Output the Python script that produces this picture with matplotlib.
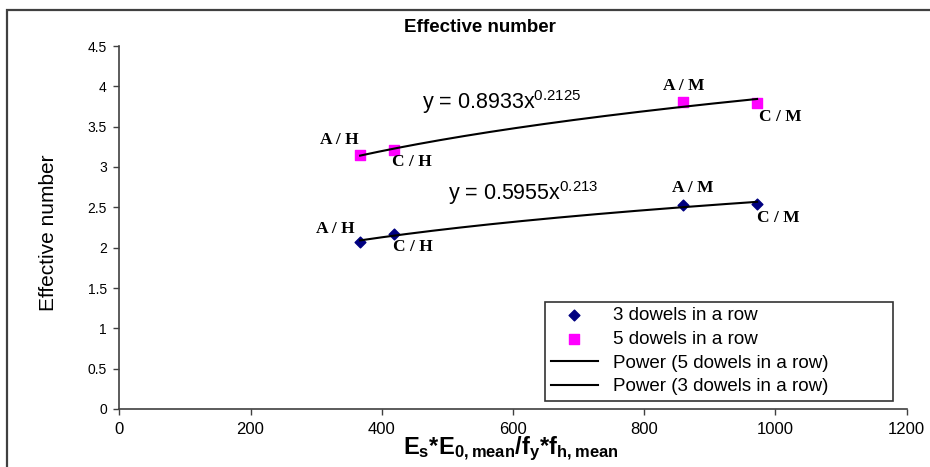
import numpy as np
import matplotlib
matplotlib.use("Agg")
import matplotlib.pyplot as plt
from matplotlib.patches import Rectangle

# ---- data ----
x_vals = [367, 419, 859, 972]
labels = ["A / H", "C / H", "A / M", "C / M"]
y_3dowels = [2.07, 2.17, 2.53, 2.54]
y_5dowels = [3.15, 3.21, 3.81, 3.79]
eq_3 = "y = 0.5955x$^{0.213}$"
eq_5 = "y = 0.8933x$^{0.2125}$"
x_ticks = [0, 200, 400, 600, 800, 1000, 1200]
y_ticks = [0, 0.5, 1, 1.5, 2, 2.5, 3, 3.5, 4, 4.5]
y_tick_labels = ["0", "0.5", "1", "1.5", "2", "2.5", "3", "3.5", "4", "4.5"]

plt.rcParams['font.family'] = ['Liberation Sans', 'DejaVu Sans']
plt.rcParams['mathtext.fontset'] = 'custom'
plt.rcParams['mathtext.rm'] = 'Liberation Sans'
plt.rcParams['mathtext.bf'] = 'Liberation Sans:bold'
serif = ['Liberation Serif', 'DejaVu Serif']

fig = plt.figure(figsize=(9.3, 4.67), dpi=100)
ax = fig.add_axes([119.3 / 930, 1 - 409 / 467, (906.7 - 119.3) / 930, (409 - 46) / 467])

# outer border
fig.patches.append(Rectangle((7 / 930, -0.1), 1.2, 1 - 10 / 467 + 0.1, transform=fig.transFigure,
                             fill=False, edgecolor='#404040', linewidth=1.6))

xs = np.array(x_vals, dtype=float)

def power_fit(x, y):
    b, ln_a = np.polyfit(np.log(x), np.log(np.array(y)), 1)
    return np.exp(ln_a), b

xx = np.linspace(xs.min(), xs.max(), 200)
a5, b5 = power_fit(xs, y_5dowels)
a3, b3 = power_fit(xs, y_3dowels)

ax.scatter(xs, y_3dowels, marker='D', s=30, color='#000080', zorder=2, label='3 dowels in a row')
ax.scatter(xs, y_5dowels, marker='s', s=42, color='#FF00FF', zorder=2, label='5 dowels in a row')
ax.plot(xx, a5 * xx ** b5, color='black', lw=1.5, zorder=3, label='Power (5 dowels in a row)')
ax.plot(xx, a3 * xx ** b3, color='black', lw=1.5, zorder=3, label='Power (3 dowels in a row)')

# point labels (offsets in pixels)
off5 = [(-21, 15), (18, -12), (1, 16), (23, -14)]
off3 = [(-25, 13), (19, -13), (10, 17), (21, -14)]
for xv, yv, lab, o in zip(xs, y_5dowels, labels, off5):
    ax.annotate(lab, (xv, yv), xytext=o, textcoords='offset pixels', ha='center', va='center',
                fontsize=12.5, fontweight='bold', family=serif)
for xv, yv, lab, o in zip(xs, y_3dowels, labels, off3):
    ax.annotate(lab, (xv, yv), xytext=o, textcoords='offset pixels', ha='center', va='center',
                fontsize=12.5, fontweight='bold', family=serif)

# equations
ax.text((422 - 119.3) / 0.6562, (409 - 102) / 80.67, eq_5, fontsize=15.5, ha='left', va='center')
ax.text((448 - 119.3) / 0.6562, (409 - 193) / 80.67, eq_3, fontsize=15.5, ha='left', va='center')

ax.set_xlim(0, 1200)
ax.set_ylim(0, 4.5)
ax.set_xticks(x_ticks)
ax.set_xticklabels([str(t) for t in x_ticks], fontsize=12)
ax.set_yticks(y_ticks)
ax.set_yticklabels(y_tick_labels, fontsize=10)
ax.tick_params(axis='both', direction='out', length=4, width=1, color='#404040', pad=5)
for s in ['top', 'right']:
    ax.spines[s].set_visible(False)
for s in ['left', 'bottom']:
    ax.spines[s].set_color('#404040')
    ax.spines[s].set_linewidth(1.2)

fig.text(480 / 930, 1 - 28 / 467, "Effective number", fontsize=13.5, fontweight='bold',
         ha='center', va='center')
fig.text(48 / 930, 1 - 233 / 467, "Effective number", fontsize=15, rotation=90,
         ha='center', va='center')
fig.text(511 / 930, 1 - 449 / 467, r"$\mathbf{E_{s}{*}E_{0,mean}/f_{y}{*}f_{h,mean}}$",
         fontsize=17, ha='center', va='center')

leg = ax.legend(loc='lower left', bbox_to_anchor=((545 - 119.3) / 787.4, (409 - 401) / 363,
                                                   (893 - 545) / 787.4, (401 - 299) / 363),
                mode='expand', fontsize=13.5, frameon=True, fancybox=False,
                edgecolor='black', borderaxespad=0, handlelength=2.5, handletextpad=0.8,
                labelspacing=0.35, borderpad=0.3)
leg.get_frame().set_linewidth(1.2)

fig.savefig("out.png", dpi=100)
